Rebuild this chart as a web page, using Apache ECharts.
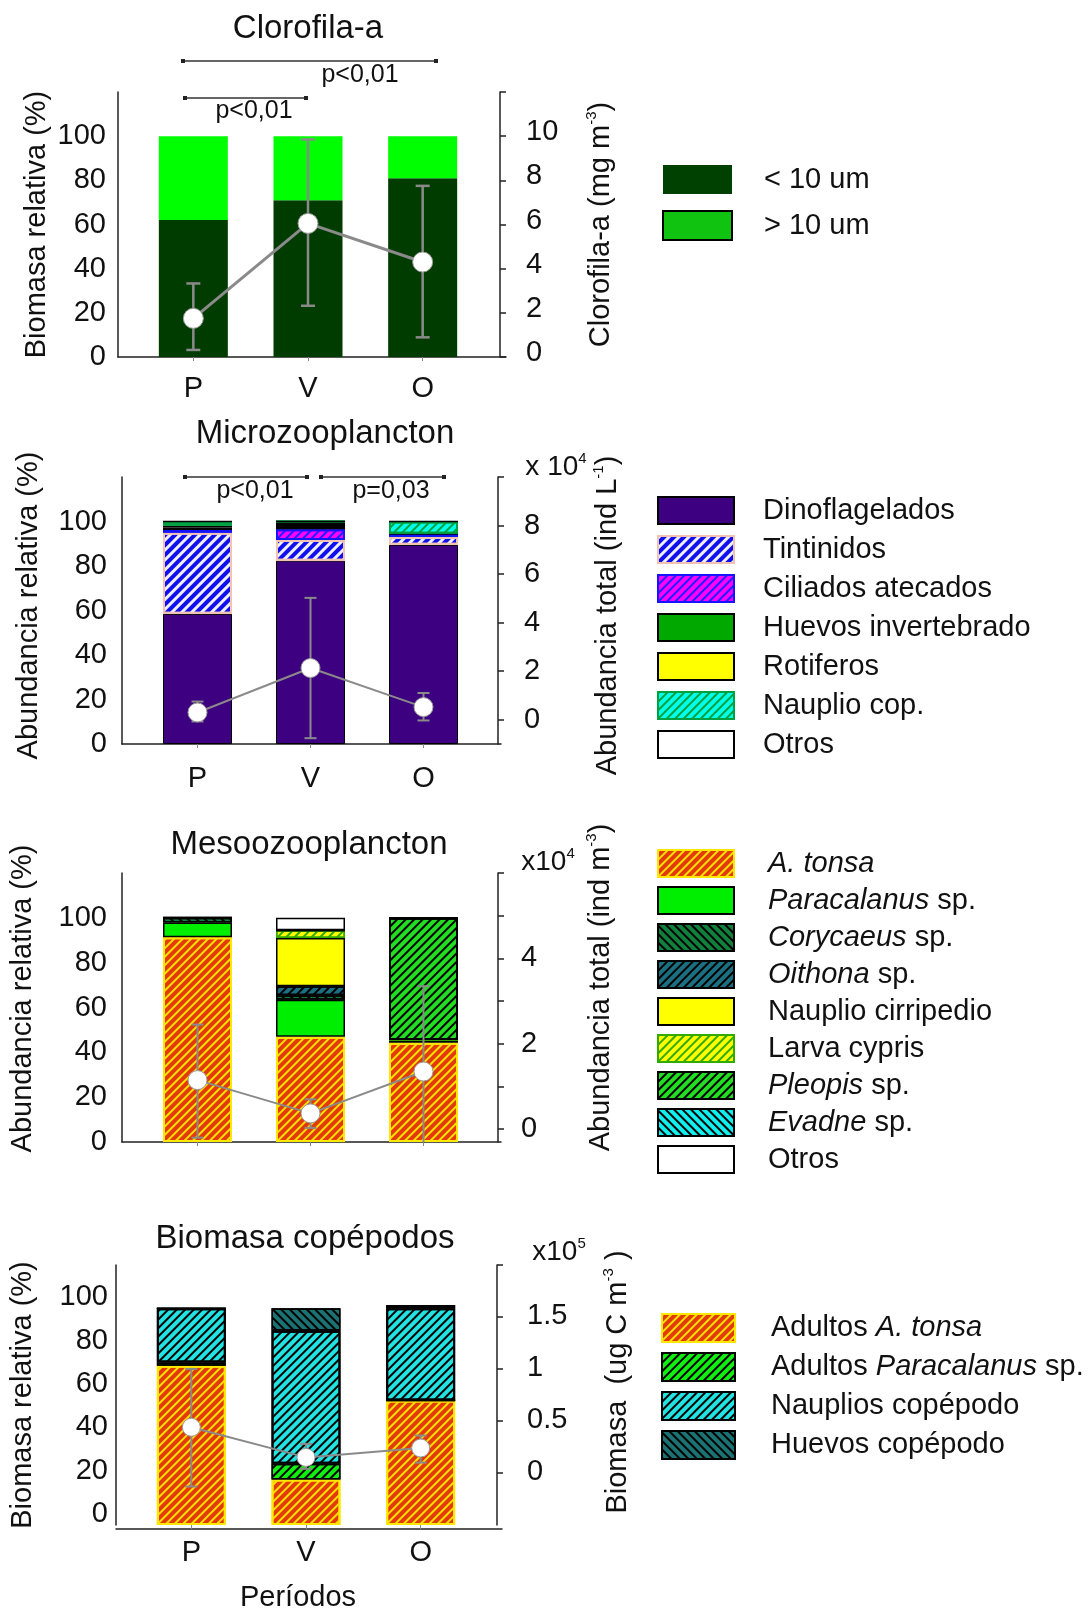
<!DOCTYPE html>
<html><head><meta charset="utf-8">
<script src="https://cdn.jsdelivr.net/npm/echarts@6/dist/echarts.min.js"></script>
<style>html,body{margin:0;padding:0;background:#fff}#c{width:1089px;height:1613px}</style>
</head><body><div id="c"></div>
<script>
// ---------- DATA ----------
const periods = ['P', 'V', 'O'];

// Panel 1: Clorofila-a (% biomass) and total (mg m-3)
const chlSmall = [62, 71, 81];
const chlLarge = [38, 29, 19];
const chlMean = [1.75, 6.05, 4.3];
const chlLow = [0.32, 2.32, 0.89];
const chlHigh = [3.33, 9.85, 7.75];
const chlTicks = [0, 2, 4, 6, 8, 10, 12];
const chlTickLabels = [0, 2, 4, 6, 8, 10];

// Panel 2: Microzooplancton (% abundance) and total (x10^4 ind L-1)
const dino = [58.5, 82.4, 89.5];
const tint = [36.5, 9.3, 3.5];
const cil = [1.2, 4.8, 1.5];
const huevosInv = [1.1, 3.5, 0];
const rot = [0.8, 0, 0];
const naupCop = [1.9, 0, 5.5];
const otrosMicro = [0, 0, 0];
const microMean = [0.3, 2.13, 0.52];
const microLow = [-0.07, -0.76, -0.03];
const microHigh = [0.75, 5.02, 1.1];
const microTicks = [0, 2, 4, 6, 8, 10];
const microTickLabels = [0, 2, 4, 6, 8];

// Panel 3: Mesozooplancton (% abundance) and total (x10^4 ind m-3)
const aTonsa = [91.3, 47, 44.3];
const paracal = [6.6, 16.5, 1.2];
const coryc = [2.1, 2, 0];
const oith = [0, 4, 0];
const nauplioCirr = [0, 21.5, 0];
const larva = [0, 3.5, 0];
const pleopis = [0, 0, 54.5];
const evadne = [0, 0, 0];
const otrosMeso = [0, 5.5, 0];
const mesoMean = [1.15, 0.37, 1.35];
const mesoLow = [-0.2, 0.03, -0.6];
const mesoHigh = [2.45, 0.7, 3.35];
const mesoTicks = [0, 1, 2, 3, 4, 5, 6];
const mesoTickLabels = [0, 2, 4];

// Panel 4: Biomasa copepodos (% biomass) and total (x10^5 ug C m-3)
const adTonsa = [73.5, 21, 57.5];
const adPara = [1.5, 7.3, 0];
const nauplios = [25, 61.4, 42.5];
const huevosCop = [0, 10.3, 1.5];
const bioMean = [0.44, 0.15, 0.24];
const bioLow = [-0.13, 0.04, 0.1];
const bioHigh = [1.0, 0.28, 0.36];
const bioTicks = [0, 0.5, 1, 1.5, 2];
const bioTickLabels = [0, 0.5, 1, 1.5];

const leftTicks = [0, 20, 40, 60, 80, 100];

// ---------- STYLE / LAYOUT ----------
const FONT = '"Liberation Sans", Arial, Helvetica, sans-serif';
const TXT = '#111';
// dir = 1 -> "/" stripes, dir = -1 -> "\" stripes
const hatch = (color, dir, w, gap) => ({symbol: 'rect', symbolSize: 1, dashArrayX: [1, 0], dashArrayY: [w, gap], rotation: -dir * Math.PI / 4, color: color});
const tonsaStyle = {color: '#e23a08', borderColor: '#ffe800', borderWidth: 2, decal: hatch('#ffe000', 1, 2, 4)};

const seriesStyles = {
  '< 10 um': {color: '#003c00'},
  '> 10 um': {color: '#00ff00'},
  'Dinoflagelados': {color: '#3d0080', borderColor: '#000', borderWidth: 1},
  'Tintinidos': {color: '#1010ee', borderColor: '#f2c2b2', borderWidth: 2, decal: hatch('#eeeeff', 1, 2.5, 3.5)},
  'Ciliados atecados': {color: '#ff00ff', borderColor: '#1414ff', borderWidth: 2, decal: hatch('#2020ff', 1, 2, 4)},
  'Huevos invertebrado': {color: '#00a800', borderColor: '#000', borderWidth: 1.5},
  'Rotiferos': {color: '#ffff00', borderColor: '#000', borderWidth: 1.5},
  'Nauplio cop.': {color: '#00ffe8', borderColor: '#00a040', borderWidth: 2, decal: hatch('#00a040', 1, 2, 4)},
  'Otros': {color: '#fff', borderColor: '#000', borderWidth: 1.5},
  'A. tonsa': tonsaStyle,
  'Paracalanus sp.': {color: '#00ee00', borderColor: '#000', borderWidth: 1.5},
  'Corycaeus sp.': {color: '#10803c', borderColor: '#000', borderWidth: 1.5, decal: hatch('#000', -1, 2, 4)},
  'Oithona sp.': {color: '#1a6f80', borderColor: '#000', borderWidth: 1.5, decal: hatch('#000', 1, 2, 4)},
  'Nauplio cirripedio': {color: '#ffff00', borderColor: '#000', borderWidth: 1.5},
  'Larva cypris': {color: '#ffff00', borderColor: '#33aa00', borderWidth: 1.5, decal: hatch('#33aa00', 1, 2, 4)},
  'Pleopis sp.': {color: '#22dd22', borderColor: '#000', borderWidth: 2, decal: hatch('#000', 1, 2, 3.6)},
  'Evadne sp.': {color: '#11eeee', borderColor: '#000', borderWidth: 1.5, decal: hatch('#000', -1, 2, 4)},
  'Otros ': {color: '#fff', borderColor: '#000', borderWidth: 1.5},
  'Adultos A. tonsa': tonsaStyle,
  'Adultos Paracalanus sp.': {color: '#11ee11', borderColor: '#000', borderWidth: 1.5, decal: hatch('#000', 1, 2, 4)},
  'Nauplios copépodo': {color: '#22e2e2', borderColor: '#000', borderWidth: 2, decal: hatch('#000', 1, 2, 3.6)},
  'Huevos copépodo': {color: '#1a7272', borderColor: '#000', borderWidth: 1.5, decal: hatch('#000', -1, 2, 4)}
};
// single segments drawn solid black in the original
const blackSegments = {'Huevos invertebrado': [1]};

const legendLabels = {
  'A. tonsa': '{i|A. tonsa}',
  'Paracalanus sp.': '{i|Paracalanus}{n| sp.}',
  'Corycaeus sp.': '{i|Corycaeus}{n| sp.}',
  'Oithona sp.': '{i|Oithona}{n| sp.}',
  'Pleopis sp.': '{i|Pleopis}{n| sp.}',
  'Evadne sp.': '{i|Evadne}{n| sp.}',
  'Otros ': '{n|Otros}',
  'Adultos A. tonsa': '{n|Adultos }{i|A. tonsa}',
  'Adultos Paracalanus sp.': '{n|Adultos }{i|Paracalanus}{n| sp.}'
};

const panels = [
  {title: 'Clorofila-a', tx: 308, ty: 12,
   names: ['< 10 um', '> 10 um'], vals: [chlSmall, chlLarge],
   mean: chlMean, lo: chlLow, hi: chlHigh, ticks: chlTicks, tickLabels: chlTickLabels,
   L: 118, R: 500, xEnd: 506, dL: 136, dR: 480, top: 92, bottom: 357, rMin: 0, rMax: 12,
   leftName: 'Biomasa relativa (%)', rightName: 'Clorofila-a (mg m{s|-3})',
   leftGap: 67, rightGap: 84, leftPad: [0, 0, 0, 0], rightPad: [0, 0, 0, 0],
   mL: 12, mR: 26, cat: true, catMargin: 17, lineW: 3, errW: 2.5, cap: 14, sym: 20, shiftL: 0, shiftR: 4},
  {title: 'Microzooplancton', tx: 325, ty: 417,
   names: ['Dinoflagelados', 'Tintinidos', 'Ciliados atecados', 'Huevos invertebrado', 'Rotiferos', 'Nauplio cop.', 'Otros'],
   vals: [dino, tint, cil, huevosInv, rot, naupCop, otrosMicro],
   mean: microMean, lo: microLow, hi: microHigh, ticks: microTicks, tickLabels: microTickLabels,
   L: 122, R: 498, xEnd: 501, dL: 141, dR: 480, top: 477, bottom: 744, rMin: -1, rMax: 10,
   leftName: 'Abundancia relativa (%)', rightName: 'Abundancia total (ind L{s|-1})',
   leftGap: 79, rightGap: 93, leftPad: [0, 0, 0, 10], rightPad: [0, 10, 0, 0],
   mL: 15, mR: 26, cat: true, catMargin: 20, lineW: 2, errW: 2, cap: 12, sym: 19, shiftL: 0, shiftR: 0},
  {title: 'Mesoozooplancton', tx: 309, ty: 828,
   names: ['A. tonsa', 'Paracalanus sp.', 'Corycaeus sp.', 'Oithona sp.', 'Nauplio cirripedio', 'Larva cypris', 'Pleopis sp.', 'Evadne sp.', 'Otros '],
   vals: [aTonsa, paracal, coryc, oith, nauplioCirr, larva, pleopis, evadne, otrosMeso],
   mean: mesoMean, lo: mesoLow, hi: mesoHigh, ticks: mesoTicks, tickLabels: mesoTickLabels,
   L: 122, R: 498, xEnd: 501, dL: 141, dR: 480, top: 873, bottom: 1142, rMin: -0.3, rMax: 6,
   leftName: 'Abundancia relativa (%)', rightName: 'Abundancia total (ind m{s|-3})',
   leftGap: 85, rightGap: 86, leftPad: [0, 0, 0, 18], rightPad: [0, 0, 0, 40],
   mL: 15, mR: 23, cat: false, catMargin: 20, lineW: 2, errW: 2, cap: 12, sym: 19, shiftL: 0, shiftR: 0},
  {title: 'Biomasa copépodos', tx: 305, ty: 1222,
   names: ['Adultos A. tonsa', 'Adultos Paracalanus sp.', 'Nauplios copépodo', 'Huevos copépodo'],
   vals: [adTonsa, adPara, nauplios, huevosCop],
   mean: bioMean, lo: bioLow, hi: bioHigh, ticks: bioTicks, tickLabels: bioTickLabels,
   L: 116, R: 497, xEnd: 502, dL: 134, dR: 478, top: 1265, bottom: 1529, rMin: -0.5, rMax: 2,
   leftName: 'Biomasa relativa (%)', rightName: 'Biomasa  (ug C m{s|-3} )',
   leftGap: 79, rightGap: 104, leftPad: [0, 0, 0, 0], rightPad: [0, 0, 0, 26],
   mL: 8, mR: 30, cat: true, catMargin: 13, lineW: 2, errW: 2, cap: 12, sym: 18, shiftL: 11, shiftR: 1.5}
];

const legendsCfg = [
  {p: 0, left: 662, top: 165, w: 69, h: 29, gap: 16, pad: 27},
  {p: 1, left: 657, top: 496, w: 76, h: 27, gap: 10, pad: 24},
  {p: 2, left: 657, top: 849, w: 76, h: 27, gap: 8, pad: 29},
  {p: 3, left: 661, top: 1313, w: 73, h: 28, gap: 9, pad: 31}
];

const brackets = [
  {x1: 183, x2: 436, y: 61, label: 'p<0,01', lx: 360, ly: 75},
  {x1: 185, x2: 306, y: 98, label: 'p<0,01', lx: 254, ly: 111},
  {x1: 185, x2: 307, y: 477, label: 'p<0,01', lx: 255, ly: 491},
  {x1: 321, x2: 444, y: 477, label: 'p=0,03', lx: 391, ly: 491}
];
const exponents = [
  {text: 'x 10{s|4}', x: 556, y: 467},
  {text: 'x10{s|4}', x: 548, y: 862},
  {text: 'x10{s|5}', x: 559, y: 1252}
];

// ---------- BUILD ----------
const grid = [], xAxis = [], yAxis = [], series = [], title = [], legend = [], graphic = [];
const supRich = {s: {fontSize: 15, fontFamily: FONT, color: TXT, verticalAlign: 'top', lineHeight: 34}};
const labelStyle = (margin, custom, shift) => {
  const o = {fontSize: 29, color: TXT, fontFamily: FONT, margin: margin, customValues: custom};
  if (shift > 0) { o.verticalAlign = 'bottom'; o.lineHeight = 2 * shift; }
  return o;
};

panels.forEach((p, k) => {
  const g = 2 * k, xa = 2 * k, ya = 3 * k;
  const h = p.bottom - p.top;
  grid.push({left: p.dL, top: p.top, width: p.dR - p.dL, height: h, containLabel: false});
  grid.push({left: p.L, top: p.top, width: p.xEnd - p.L, height: h, containLabel: false});
  xAxis.push({
    type: 'category', gridIndex: g, data: periods, boundaryGap: true,
    axisLine: {show: false},
    axisTick: {show: true, alignWithLabel: true, length: 4, lineStyle: {color: '#888', width: 1}},
    axisLabel: {show: p.cat, fontSize: 29, color: TXT, fontFamily: FONT, margin: p.catMargin},
    splitLine: {show: false},
    name: k === 3 ? 'Períodos' : '', nameLocation: 'middle', nameGap: 58,
    nameTextStyle: {fontSize: 29, color: TXT, fontFamily: FONT, padding: [0, 16, 0, 0]}
  });
  xAxis.push({
    type: 'value', gridIndex: g + 1, min: 0, max: 1,
    axisLine: {show: true, lineStyle: {color: '#222', width: 1.5}},
    axisTick: {show: false}, axisLabel: {show: false}, splitLine: {show: false}
  });
  yAxis.push({
    type: 'value', gridIndex: g, position: 'left', offset: p.dL - p.L,
    min: 0, max: 120, interval: 20,
    axisLine: {show: true, lineStyle: {color: '#222', width: 1.5}},
    axisTick: {show: false},
    axisLabel: labelStyle(p.mL, leftTicks, p.shiftL),
    splitLine: {show: false},
    name: p.leftName, nameLocation: 'middle', nameRotate: 90, nameGap: p.leftGap,
    nameTextStyle: {fontSize: 29, color: TXT, fontFamily: FONT, padding: p.leftPad}
  });
  yAxis.push({
    type: 'value', gridIndex: g, position: 'right', offset: p.R - p.dR,
    min: p.rMin, max: p.rMax,
    axisLine: {show: true, lineStyle: {color: '#222', width: 1.5}},
    axisTick: {show: true, inside: false, length: 6, customValues: p.ticks, lineStyle: {color: '#222', width: 1.5}},
    axisLabel: labelStyle(p.mR, p.tickLabels, p.shiftR),
    splitLine: {show: false},
    name: p.rightName, nameLocation: 'middle', nameRotate: 90, nameGap: p.rightGap,
    nameTextStyle: {fontSize: 29, color: TXT, fontFamily: FONT, padding: p.rightPad, rich: supRich}
  });
  yAxis.push({type: 'value', gridIndex: g + 1, show: false, min: 0, max: 1});

  title.push({text: p.title, left: p.tx, top: p.ty, textAlign: 'center', padding: 0,
    textStyle: {fontSize: 33, fontWeight: 'normal', color: TXT, fontFamily: FONT}});

  p.names.forEach((nm, si) => {
    const st = seriesStyles[nm];
    const blk = blackSegments[nm] || [];
    series.push({
      type: 'bar', name: nm, xAxisIndex: xa, yAxisIndex: ya, stack: 'panel' + k,
      barWidth: 69, silent: true, itemStyle: st,
      data: p.vals[si].map((v, i) => blk.indexOf(i) >= 0
        ? {value: v, itemStyle: {color: '#000', decal: null}} : v),
      z: 2
    });
  });

  const cap = p.cap, ew = p.errW;
  series.push({
    type: 'custom', xAxisIndex: xa, yAxisIndex: ya + 1, silent: true, clip: true, z: 3,
    data: periods.map((c, i) => [i, p.lo[i], p.hi[i]]),
    encode: {x: 0, y: [1, 2]},
    renderItem: (params, api) => {
      const xi = api.value(0);
      const a = api.coord([xi, api.value(1)]);
      const b = api.coord([xi, api.value(2)]);
      const st = {stroke: '#8a8a8a', lineWidth: ew};
      return {type: 'group', children: [
        {type: 'line', shape: {x1: a[0], y1: a[1], x2: b[0], y2: b[1]}, style: st},
        {type: 'line', shape: {x1: a[0] - cap / 2, y1: a[1], x2: a[0] + cap / 2, y2: a[1]}, style: st},
        {type: 'line', shape: {x1: b[0] - cap / 2, y1: b[1], x2: b[0] + cap / 2, y2: b[1]}, style: st}
      ]};
    }
  });
  series.push({
    type: 'line', name: 'total' + k, xAxisIndex: xa, yAxisIndex: ya + 1, data: p.mean, silent: true,
    symbol: 'circle', symbolSize: p.sym, z: 4,
    itemStyle: {color: '#fff', borderColor: '#9a9a9a', borderWidth: 1},
    lineStyle: {color: '#8a8a8a', width: p.lineW}
  });
});

legendsCfg.forEach(c => {
  const p = panels[c.p];
  legend.push({
    left: c.left, top: c.top, orient: 'vertical', padding: 0, selectedMode: false,
    itemWidth: c.w, itemHeight: c.h, itemGap: c.gap, icon: 'rect',
    data: p.names.map(nm => {
      if (nm === '< 10 um') return {name: nm, itemStyle: {color: '#004000'}};
      if (nm === '> 10 um') return {name: nm, itemStyle: {color: '#11c311', borderColor: '#000', borderWidth: 2}};
      return {name: nm};
    }),
    formatter: nm => legendLabels[nm] || ('{n|' + nm + '}'),
    textStyle: {fontSize: 29, color: TXT, fontFamily: FONT, padding: [0, 0, 0, c.pad],
      rich: {
        n: {fontSize: 29, color: TXT, fontFamily: FONT},
        i: {fontSize: 29, color: TXT, fontFamily: FONT, fontStyle: 'italic'}
      }}
  });
});

brackets.forEach(b => {
  graphic.push({type: 'line', silent: true, shape: {x1: b.x1, y1: b.y, x2: b.x2, y2: b.y}, style: {stroke: '#333', lineWidth: 1.5}});
  graphic.push({type: 'rect', silent: true, shape: {x: b.x1 - 2, y: b.y - 2, width: 4, height: 4}, style: {fill: '#222'}});
  graphic.push({type: 'rect', silent: true, shape: {x: b.x2 - 2, y: b.y - 2, width: 4, height: 4}, style: {fill: '#222'}});
  graphic.push({type: 'text', silent: true, x: b.lx, y: b.ly, style: {text: b.label, fontSize: 25, fontFamily: FONT, fill: TXT, align: 'center', verticalAlign: 'middle'}});
});
exponents.forEach(e => {
  graphic.push({type: 'text', silent: true, x: e.x, y: e.y, style: {
    text: e.text, fontSize: 28, fontFamily: FONT, fill: TXT, align: 'center', verticalAlign: 'middle',
    rich: {s: {fontSize: 15, fontFamily: FONT, fill: TXT, verticalAlign: 'top', lineHeight: 32}}
  }});
});

const chart = echarts.init(document.getElementById('c'), null, {renderer: 'canvas'});
chart.setOption({
  animation: false,
  backgroundColor: '#fff',
  textStyle: {fontFamily: FONT},
  title, legend, grid, xAxis, yAxis, series, graphic
});
</script></body></html>
